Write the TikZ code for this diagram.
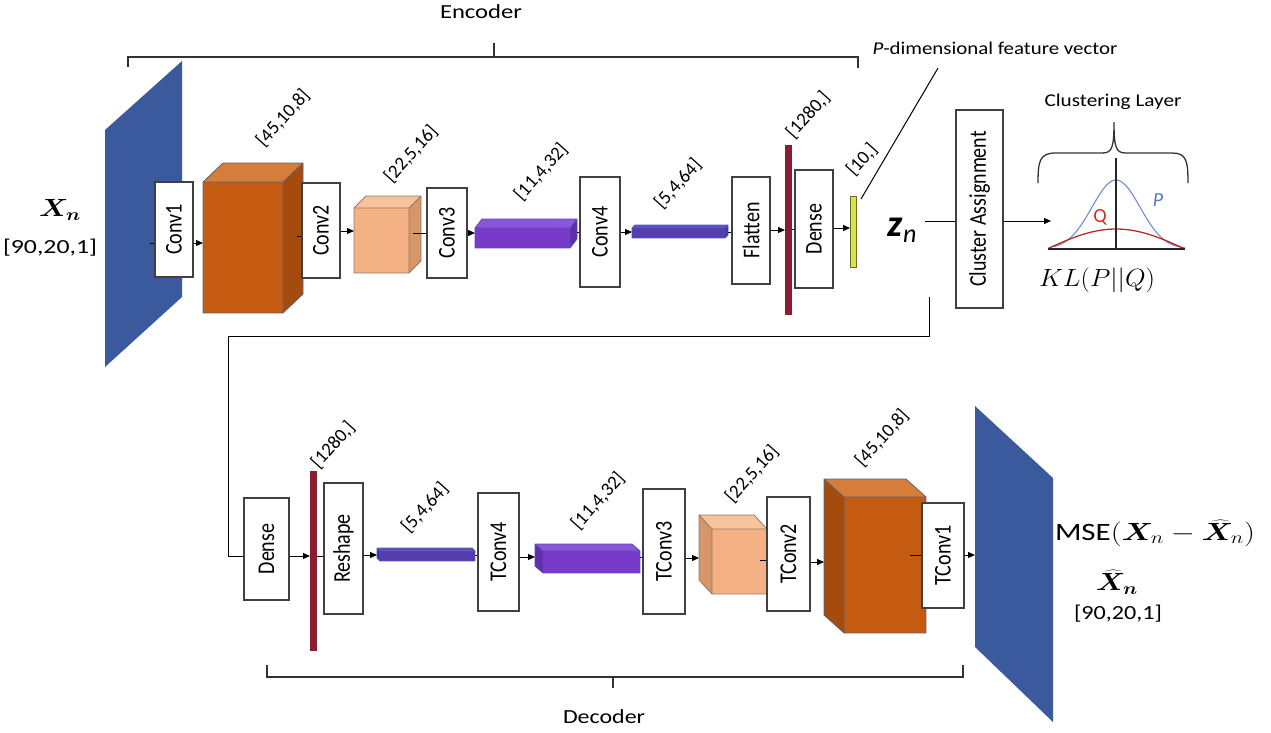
\documentclass[tikz,border=0pt]{standalone}
\usepackage{fontspec}
\setmainfont{Carlito}
\usepackage{bm}
\usetikzlibrary{arrows.meta}
\definecolor{planeblue}{RGB}{59,90,158}
\definecolor{orf}{RGB}{197,90,17}\definecolor{ort}{RGB}{215,125,60}\definecolor{ors}{RGB}{165,75,14}\definecolor{ore}{RGB}{90,100,120}
\definecolor{pcf}{RGB}{244,177,131}\definecolor{pct}{RGB}{247,195,155}\definecolor{pcs}{RGB}{215,150,105}\definecolor{pce}{RGB}{150,120,100}
\definecolor{puf}{RGB}{120,58,200}\definecolor{put}{RGB}{140,85,215}\definecolor{pus}{RGB}{100,45,170}\definecolor{pue}{RGB}{80,80,190}
\definecolor{thf}{RGB}{85,60,175}\definecolor{tht}{RGB}{100,80,190}\definecolor{ths}{RGB}{70,50,150}\definecolor{the}{RGB}{70,90,190}
\definecolor{redbar}{RGB}{140,28,50}
\definecolor{ylw}{RGB}{215,228,80}\definecolor{ylwe}{RGB}{110,110,40}
\definecolor{curveP}{RGB}{110,140,210}\definecolor{curveQ}{RGB}{190,40,40}
\definecolor{labP}{RGB}{90,120,200}\definecolor{labQ}{RGB}{200,50,30}
\newcommand{\vlab}[1]{\scalebox{1.2}[1]{\rotatebox{90}{#1}}}
\newcommand{\dlab}[1]{\rotatebox{48}{#1}}
% box extruded to the upper right
\newcommand{\boxR}[7]{%
 \fill[#7f] (#1,#2) rectangle (#3,#4);
 \fill[#7t] (#1,#2) -- ({#1+#5},{#2+#6}) -- ({#3+#5},{#2+#6}) -- (#3,#2) -- cycle;
 \fill[#7s] (#3,#2) -- ({#3+#5},{#2+#6}) -- ({#3+#5},{#4+#6}) -- (#3,#4) -- cycle;
 \draw[#7e, line width=0.8pt, line join=round] (#1,#2) rectangle (#3,#4)
   (#1,#2) -- ({#1+#5},{#2+#6}) -- ({#3+#5},{#2+#6}) -- ({#3+#5},{#4+#6}) -- (#3,#4)
   (#3,#2) -- ({#3+#5},{#2+#6});}
% box extruded to the upper left
\newcommand{\boxL}[7]{%
 \fill[#7f] (#1,#2) rectangle (#3,#4);
 \fill[#7t] (#1,#2) -- ({#1+#5},{#2+#6}) -- ({#3+#5},{#2+#6}) -- (#3,#2) -- cycle;
 \fill[#7s] (#1,#2) -- ({#1+#5},{#2+#6}) -- ({#1+#5},{#4+#6}) -- (#1,#4) -- cycle;
 \draw[#7e, line width=0.8pt, line join=round] (#1,#2) rectangle (#3,#4)
   (#3,#2) -- ({#3+#5},{#2+#6}) -- ({#1+#5},{#2+#6}) -- ({#1+#5},{#4+#6}) -- (#1,#4)
   (#1,#2) -- ({#1+#5},{#2+#6});}
\begin{document}
\begin{tikzpicture}[x=1pt,y=-1pt,
  lbox/.style={draw=black!75, fill=white, line width=1.2pt, inner sep=0pt,
     font=\fontsize{20}{20}\selectfont},
  dim/.style={inner sep=0pt, font=\fontsize{19}{19}\selectfont},
  ttl/.style={inner sep=0pt, font=\fontsize{20}{20}\selectfont},
  conn/.style={line width=1pt, black},
  arr/.style={conn, -{Triangle[length=7pt,width=6pt]}},
  brk/.style={line width=1.1pt, black!80}]
\useasboundingbox (0,0) rectangle (1271,732);

% ---------- braces ----------
\draw[brk] (128,67) -- (128,57) -- (858,57) -- (858,68);
\draw[brk] (494,57) -- (494,43);
\node[ttl, anchor=base] (enc) at (481,18) {\resizebox{82pt}{\height}{Encoder}};
\draw[brk] (267,665) -- (267,677) -- (963,677) -- (963,665);
\draw[brk] (613,677) -- (613,688);
\node[ttl, anchor=base] (dec) at (604,723) {\resizebox{82pt}{\height}{Decoder}};

% ---------- encoder shapes ----------
\fill[planeblue] (105,130) -- (182,61) -- (182,297) -- (105,367) -- cycle;
\boxR{203}{182}{283}{313}{20}{-19}{or}
\boxR{354}{208}{409}{273}{12}{-12}{pc}
\boxR{475}{228}{570}{248}{7}{-9}{pu}
\boxR{632}{228}{725}{238}{3}{-3}{th}
\fill[redbar] (785,145) rectangle (792,315);
\filldraw[fill=ylw, draw=ylwe, line width=0.8pt] (850,196) rectangle (856,267);

% ---------- decoder shapes ----------
\fill[redbar] (310,471) rectangle (317,651);
\boxL{380}{551}{475}{561}{-3}{-3}{th}
\boxL{543}{551}{640}{573}{-8}{-7}{pu}
\boxL{712}{529}{767}{594}{-13}{-14}{pc}
\boxL{844}{497}{926}{633}{-20}{-18}{or}
\fill[planeblue] (975,406) -- (1053,478) -- (1053,722) -- (975,647) -- cycle;

% ---------- anchor coordinates ----------
\coordinate (inR) at (150,243);
\coordinate (cubeAin) at (203,243);  \coordinate (cubeAout) at (297,236);
\coordinate (cubeBin) at (354,231);  \coordinate (cubeBout) at (413,233);
\coordinate (barAin) at (475,233);   \coordinate (barAout) at (577,232);
\coordinate (barBin) at (632,232);   \coordinate (barBout) at (728,232);
\coordinate (redAin) at (785,230);   \coordinate (redAout) at (792,229);
\coordinate (ylwin) at (850,228);    \coordinate (ylwtop) at (861,199);
\coordinate (pdline) at (938,68);
\coordinate (zL) at (925,221);       \coordinate (kl) at (1051,221);
\coordinate (fb) at (929,297); \coordinate (fb1) at (929,336);
\coordinate (fb2) at (228,336); \coordinate (fb3) at (228,556);
\coordinate (redBin) at (310,556);   \coordinate (redBout) at (317,556);
\coordinate (thBin) at (377,555);    \coordinate (thBout) at (475,555);
\coordinate (puBin) at (535,557);    \coordinate (puBout) at (640,557);
\coordinate (pcBin) at (699,558);    \coordinate (pcBout) at (760,560);
\coordinate (orBin) at (824,562);    \coordinate (orBout) at (910,555);
\coordinate (outin) at (975,555);

% ---------- boxes ----------
\node[lbox, minimum width=38pt, minimum height=95pt]  (conv1) at (174,229.5) {\vlab{Conv1}};
\node[lbox, minimum width=38pt, minimum height=95pt]  (conv2) at (321,230.5) {\vlab{Conv2}};
\node[lbox, minimum width=40pt, minimum height=90pt]  (conv3) at (447,233) {\vlab{Conv3}};
\node[lbox, minimum width=40pt, minimum height=110pt] (conv4) at (600,232) {\vlab{Conv4}};
\node[lbox, minimum width=38pt, minimum height=107pt] (flat)  at (751,230.5) {\vlab{Flatten}};
\node[lbox, minimum width=38pt, minimum height=118pt] (dense) at (814,229) {\vlab{Dense}};
\node[lbox, minimum width=47pt, minimum height=198pt] (clus)  at (979.5,209) {\vlab{Cluster Assignment}};
\node[lbox, minimum width=45pt, minimum height=102pt] (ddense) at (266.5,549) {\vlab{Dense}};
\node[lbox, minimum width=39pt, minimum height=131pt] (resh)  at (343.5,548.5) {\vlab{Reshape}};
\node[lbox, minimum width=41pt, minimum height=118pt] (tc4)   at (498.5,552) {\vlab{TConv4}};
\node[lbox, minimum width=42pt, minimum height=125pt] (tc3)   at (664,551.5) {\vlab{TConv3}};
\node[lbox, minimum width=43pt, minimum height=114pt] (tc2)   at (788.5,554) {\vlab{TConv2}};
\node[lbox, minimum width=42pt, minimum height=105pt] (tc1)   at (943,555.5) {\vlab{TConv1}};

% ---------- encoder connectors ----------
\draw[conn] (inR) -- (inR -| conv1.west);
\draw[arr] (cubeAin -| conv1.east) -- (cubeAin);
\draw[conn] (cubeAout) -- (cubeAout -| conv2.west);
\draw[arr] (cubeBin -| conv2.east) -- (cubeBin);
\draw[conn] (cubeBout) -- (cubeBout -| conv3.west);
\draw[arr] (barAin -| conv3.east) -- (barAin);
\draw[conn] (barAout) -- (barAout -| conv4.west);
\draw[arr] (barBin -| conv4.east) -- (barBin);
\draw[conn] (barBout) -- (barBout -| flat.west);
\draw[arr] (redAin -| flat.east) -- (redAin);
\draw[conn] (redAout) -- (redAout -| dense.west);
\draw[arr] (ylwin -| dense.east) -- (ylwin);
\draw[conn] (zL) -- (zL -| clus.west);
\draw[arr] (zL -| clus.east) -- (kl);
\draw[conn] (pdline) -- (ylwtop);
\draw[conn] (fb) -- (fb1) -- (fb2) -- (fb3) -- (fb3 -| ddense.west);

% ---------- decoder connectors ----------
\draw[arr] (redBin -| ddense.east) -- (redBin);
\draw[conn] (redBout) -- (redBout -| resh.west);
\draw[arr] (thBin -| resh.east) -- (thBin);
\draw[conn] (thBout) -- (thBout -| tc4.west);
\draw[arr] (puBin -| tc4.east) -- (puBin);
\draw[conn] (puBout) -- (puBout -| tc3.west);
\draw[arr] (pcBin -| tc3.east) -- (pcBin);
\draw[conn] (pcBout) -- (pcBout -| tc2.west);
\draw[arr] (orBin -| tc2.east) -- (orBin);
\draw[conn] (orBout) -- (orBout -| tc1.west);
\draw[arr] (outin -| tc1.east) -- (outin);

% ---------- dimension labels ----------
\node[dim] (d1) at (283,118) {\dlab{[45,10,8]}};
\node[dim] (d2) at (411,154) {\dlab{[22,5,16]}};
\node[dim] (d3) at (541,172) {\dlab{[11,4,32]}};
\node[dim] (d4) at (678,184) {\dlab{[5,4,64]}};
\node[dim] (d5) at (808,115) {\dlab{[1280,]}};
\node[dim] (d6) at (862,160) {\dlab{[10,]}};
\node[dim] (e1) at (333,445) {\dlab{[1280,]}};
\node[dim] (e2) at (425,508) {\dlab{[5,4,64]}};
\node[dim] (e3) at (598,501) {\dlab{[11,4,32]}};
\node[dim] (e4) at (752,474) {\dlab{[22,5,16]}};
\node[dim] (e5) at (882,438) {\dlab{[45,10,8]}};

% ---------- texts ----------
\node[inner sep=0pt] (xn) at (60,210) {\scalebox{1.15}[1]{\fontsize{24}{24}\selectfont$\bm{X}_{\bm{n}}$}};
\node[ttl] (xdim) at (50,248) {\resizebox{94pt}{\height}{[90,20,1]}};
\node[ttl, anchor=base] (pdim) at (995,54) {\resizebox{245pt}{\height}{\fontsize{18}{18}\selectfont\textit{P}-dimensional feature vector}};
\node[inner sep=0pt] (zn) at (902,230) {\fontsize{38}{38}\selectfont\textbf{\textit{z}}\raisebox{-6pt}{\fontsize{26}{26}\selectfont\textit{n}}};
\node[ttl, anchor=base] (cl) at (1113,106) {\resizebox{137pt}{\height}{\fontsize{18}{18}\selectfont Clustering Layer}};

% clustering plot
\draw[brk, line width=1.3pt] (1038,183) .. controls (1038,160) and (1040,153) .. (1056,153) -- (1102,153)
  .. controls (1112,153) and (1114,148) .. (1114,122) .. controls (1114,148) and (1116,153) .. (1126,153)
  -- (1172,153) .. controls (1186,153) and (1188,160) .. (1188,183);
\draw[curveP, line width=1.1pt] plot[domain=-62:69, samples=60, smooth] ({1116+\x},{249-69*exp(-((\x/24)^2)/2)});
\draw[curveQ, line width=1.3pt] plot[domain=-68:69, samples=40, smooth] ({1116+\x},{249-20*cos(\x/69*90)});
\draw[black!85, line width=2pt] (1048,249) -- (1185,249);
\draw[black!85, line width=2pt] (1116,158) -- (1116,249);
\node[inner sep=0pt, text=labQ, font=\fontsize{20}{20}\selectfont] (q) at (1100,217) {Q};
\node[inner sep=0pt, text=labP, font=\fontsize{20}{20}\selectfont\itshape] (p) at (1158,200) {P};
\node[inner sep=0pt] (klt) at (1097,280) {\resizebox{116pt}{\height}{\fontsize{26}{26}\selectfont$KL(P||Q)$}};

\node[inner sep=0pt] (mse) at (1155,533) {\resizebox{200pt}{\height}{\fontsize{25}{25}\selectfont MSE$(\bm{X}_n-\widehat{\bm{X}}_n)$}};
\node[inner sep=0pt] (xh) at (1117,582) {\scalebox{1.15}[1]{\fontsize{24}{24}\selectfont$\widehat{\bm{X}}_{\bm{n}}$}};
\node[ttl] (xhdim) at (1118,614) {\resizebox{88pt}{\height}{[90,20,1]}};
\end{tikzpicture}
\end{document}
